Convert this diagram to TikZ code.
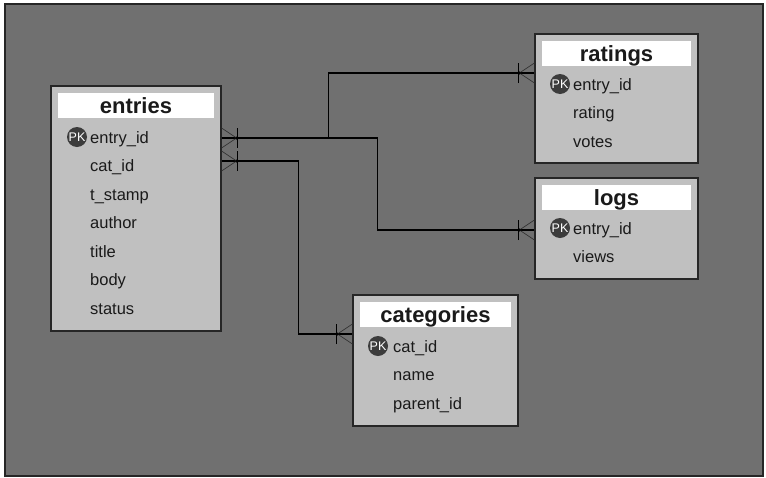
\documentclass[tikz,border=0pt]{standalone}
\usepackage{fontspec}
\setmainfont{Liberation Sans}
\usetikzlibrary{calc}
\definecolor{bggray}{HTML}{707070}
\definecolor{boxgray}{HTML}{C0C0C0}
\definecolor{pkgray}{HTML}{3C3C3C}
\definecolor{txt}{HTML}{1A1A1A}
\tikzset{
  tbl/.style={draw=black!85, line width=1.2pt, fill=boxgray, inner sep=0pt, minimum width=#1},
  titlebar/.style={fill=white, draw=none},
  ttl/.style={font=\bfseries\fontsize{22}{22}\selectfont, text=txt, anchor=base, inner sep=0pt},
  row/.style={font=\fontsize{16.5}{16.5}\selectfont, text=txt, anchor=base west, inner sep=0pt},
  pk/.style={circle, fill=pkgray, minimum size=20pt, inner sep=0pt, text=white, font=\fontsize{12.5}{12.5}\selectfont},
  conn/.style={draw=black, line width=1.1pt},
  crow/.pic={
    \draw[black!80, line width=0.7pt] (0,-10) -- (15,0) -- (0,10);
    \draw[black, line width=1.1pt] (16,-10) -- (16,10);
    \fill[black] (15,0) circle (1.6);
  }
}
\begin{document}
\begin{tikzpicture}[x=1pt,y=-1pt]
\useasboundingbox (0,0) rectangle (766,477);
\fill[white] (0,0) rectangle (766,477);
\draw[fill=bggray, draw=black!85, line width=1.5pt] (5,4) rectangle (763,476);

% entries
\node[tbl=170pt, minimum height=245pt] (entries) at (136,208.5) {};
\fill[titlebar] (58,93) rectangle (214,118);
\node[ttl] (entriesT) at (136,113) {entries};
\node[pk] (entriesPK) at (77,137) {PK};
\node[row] (en1) at (90,143) {entry\_id};
\node[row] (en2) at (90,171.5) {cat\_id};
\node[row] (en3) at (90,200) {t\_stamp};
\node[row] (en4) at (90,228.5) {author};
\node[row] (en5) at (90,257) {title};
\node[row] (en6) at (90,285.5) {body};
\node[row] (en7) at (90,314) {status};

% ratings
\node[tbl=163pt, minimum height=129pt] (ratings) at (616.5,98.5) {};
\fill[titlebar] (542,41) rectangle (691,66);
\node[ttl] (ratingsT) at (616.5,61) {ratings};
\node[pk] (ratingsPK) at (560,84) {PK};
\node[row] (ra1) at (573,90) {entry\_id};
\node[row] (ra2) at (573,118.5) {rating};
\node[row] (ra3) at (573,147) {votes};

% logs
\node[tbl=163pt, minimum height=101pt] (logs) at (616.5,228.5) {};
\fill[titlebar] (542,185) rectangle (691,210);
\node[ttl] (logsT) at (616.5,205) {logs};
\node[pk] (logsPK) at (560,228) {PK};
\node[row] (lo1) at (573,234) {entry\_id};
\node[row] (lo2) at (573,262.5) {views};

% categories
\node[tbl=165pt, minimum height=131pt] (categories) at (435.5,360.5) {};
\fill[titlebar] (360,302) rectangle (511,327);
\node[ttl] (categoriesT) at (435.5,322) {categories};
\node[pk] (categoriesPK) at (378,346) {PK};
\node[row] (ca1) at (393,352) {cat\_id};
\node[row] (ca2) at (393,380.5) {name};
\node[row] (ca3) at (393,409) {parent\_id};

% connector end points
\coordinate (e1) at (entries.east |- 0,138);
\coordinate (e2) at (entries.east |- 0,161);
\coordinate (r1) at (ratings.west |- 0,73);
\coordinate (l1) at (logs.west |- 0,230);
\coordinate (c1) at (categories.west |- 0,334);
\coordinate (b1) at ($(e1)+(107,0)$);

\draw[conn] (e1) -- ++(156,0) |- (l1);
\draw[conn] (b1) |- (r1);
\draw[conn] (e2) -- ++(77,0) |- (c1);

\pic at (e1) {crow};
\pic at (e2) {crow};
\pic[rotate=180] at (r1) {crow};
\pic[rotate=180] at (l1) {crow};
\pic[rotate=180] at (c1) {crow};
\end{tikzpicture}
\end{document}
